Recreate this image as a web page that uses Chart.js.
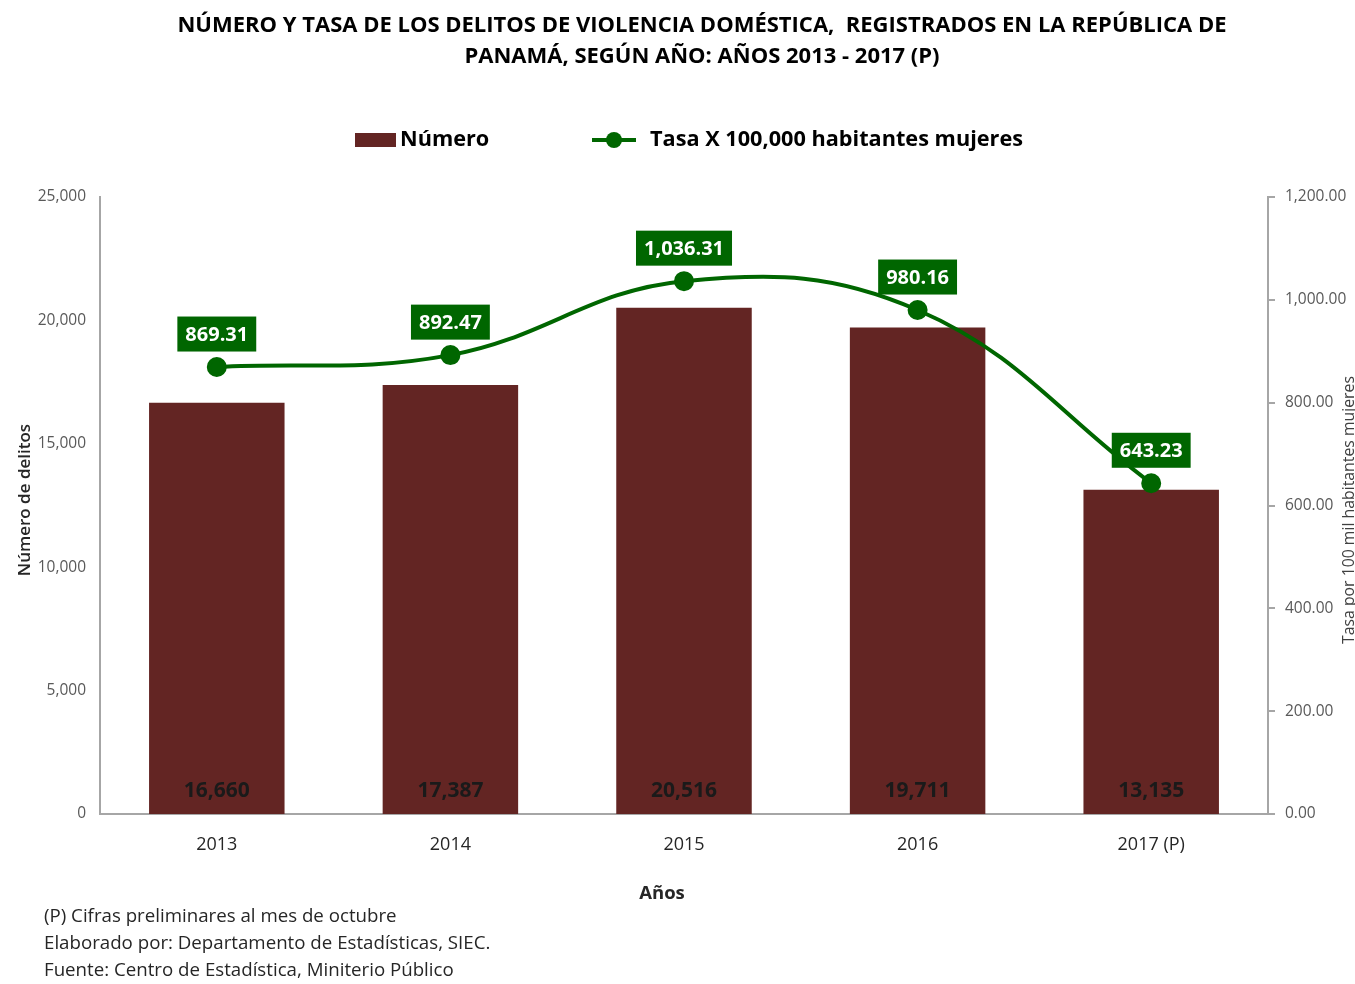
<!DOCTYPE html>
<html>
<head>
<meta charset="utf-8">
<script src="https://cdn.jsdelivr.net/npm/chart.js@4.4.1/dist/chart.umd.min.js"></script>
<style>
  html, body { margin: 0; padding: 0; background: #fff; }
  #wrap { position: relative; width: 1355px; height: 984px; }
</style>
</head>
<body>
<div id="wrap"><canvas id="myChart" width="1355" height="984"></canvas></div>
<script>
// datos
const anios = ["2013", "2014", "2015", "2016", "2017 (P)"];
const numeroDelitos = [16660, 17387, 20516, 19711, 13135];
const tasaMujeres = [869.31, 892.47, 1036.31, 980.16, 643.23];

const titulo = [
    "NÚMERO Y TASA DE LOS DELITOS DE VIOLENCIA DOMÉSTICA,  REGISTRADOS EN LA REPÚBLICA DE",
    "PANAMÁ, SEGÚN AÑO: AÑOS 2013 - 2017 (P)"
];
const notas = [
    "(P) Cifras preliminares al mes de octubre",
    "Elaborado por: Departamento de Estadísticas, SIEC.",
    "Fuente: Centro de Estadística, Miniterio Público"
];

const colorBarra = "#632523";
const colorLinea = "#006600";
const colorEje = "#a6a6a6";
const fuente = "'Open Sans', sans-serif";

const fmtEntero = v => v.toLocaleString("en-US");
const fmtDec = v => v.toLocaleString("en-US", { minimumFractionDigits: 2, maximumFractionDigits: 2 });

// titulo, leyenda, notas y etiquetas
const decoraciones = {
    id: "decoraciones",
    afterDatasetsDraw(chart) {
        const ctx = chart.ctx;
        const metaBar = chart.getDatasetMeta(0);
        const metaLine = chart.getDatasetMeta(1);
        const yBase = chart.scales.y.getPixelForValue(0);

        ctx.save();
        ctx.textAlign = "center";
        ctx.textBaseline = "middle";

        // etiquetas de barras
        ctx.font = "bold 21px " + fuente;
        ctx.fillStyle = "#1a1a1a";
        metaBar.data.forEach((bar, i) => {
            ctx.fillText(fmtEntero(numeroDelitos[i]), bar.x, yBase - 23);
        });

        // etiquetas de la linea
        ctx.font = "bold 20px " + fuente;
        metaLine.data.forEach((pt, i) => {
            const txt = fmtDec(tasaMujeres[i]);
            const w = ctx.measureText(txt).width + 16;
            const h = 35;
            const cy = pt.y - 33;
            ctx.fillStyle = colorLinea;
            ctx.fillRect(pt.x - w / 2, cy - h / 2, w, h);
            ctx.fillStyle = "#ffffff";
            ctx.fillText(txt, pt.x, cy + 1);
        });
        ctx.restore();
    },
    afterDraw(chart) {
        const ctx = chart.ctx;
        ctx.save();
        ctx.textBaseline = "middle";

        // titulo
        ctx.textAlign = "center";
        ctx.fillStyle = "#000";
        ctx.font = "bold 22px " + fuente;
        ctx.fillText(titulo[0], 702, 26);
        ctx.fillText(titulo[1], 702, 57);

        // leyenda
        ctx.textAlign = "left";
        ctx.font = "bold 21.7px " + fuente;
        ctx.fillStyle = colorBarra;
        ctx.fillRect(355, 133, 41, 14);
        ctx.fillStyle = "#000";
        ctx.fillText("Número", 400, 140);
        ctx.strokeStyle = colorLinea;
        ctx.lineWidth = 4;
        ctx.beginPath();
        ctx.moveTo(592, 140);
        ctx.lineTo(636, 140);
        ctx.stroke();
        ctx.fillStyle = colorLinea;
        ctx.beginPath();
        ctx.arc(614, 140, 8, 0, Math.PI * 2);
        ctx.fill();
        ctx.fillStyle = "#000";
        ctx.fillText("Tasa X 100,000 habitantes mujeres", 650, 140);

        // titulos de ejes
        ctx.textAlign = "center";
        ctx.font = "bold 18.5px " + fuente;
        ctx.fillStyle = "#262626";
        ctx.fillText("Años", 662, 894);

        ctx.save();
        ctx.translate(25, 500);
        ctx.rotate(-Math.PI / 2);
        ctx.font = "600 17px " + fuente;
        ctx.fillText("Número de delitos", 0, 0);
        ctx.restore();

        ctx.save();
        ctx.translate(1349, 510);
        ctx.rotate(-Math.PI / 2);
        ctx.font = "15.8px " + fuente;
        ctx.fillStyle = "#404040";
        ctx.fillText("Tasa por 100 mil habitantes mujeres", 0, 0);
        ctx.restore();

        // notas
        ctx.textAlign = "left";
        ctx.font = "18.7px " + fuente;
        ctx.fillStyle = "#262626";
        notas.forEach((t, i) => ctx.fillText(t, 44, 917 + i * 27));
        ctx.restore();
    }
};

const ctx = document.getElementById("myChart").getContext("2d");
const chart = new Chart(ctx, {
    data: {
        labels: anios,
        datasets: [
            {
                type: "bar",
                label: "Número",
                data: numeroDelitos,
                backgroundColor: colorBarra,
                yAxisID: "y",
                barPercentage: 0.58,
                categoryPercentage: 1,
                order: 2
            },
            {
                type: "line",
                label: "Tasa X 100,000 habitantes mujeres",
                data: tasaMujeres,
                borderColor: colorLinea,
                backgroundColor: colorLinea,
                borderWidth: 4,
                pointRadius: 8,
                pointHoverRadius: 8,
                tension: 0.4,
                yAxisID: "y1",
                order: 1
            }
        ]
    },
    options: {
        responsive: false,
        animation: false,
        layout: { padding: { top: 197, left: 0, right: 0, bottom: 0 } },
        plugins: {
            legend: { display: false },
            title: { display: false },
            tooltip: { enabled: false }
        },
        scales: {
            x: {
                grid: { display: false, drawTicks: false },
                border: { display: true, color: colorEje, width: 2 },
                ticks: { color: "#262626", font: { family: fuente, size: 18 }, padding: 20 },
                afterFit: s => { s.height = 170; }
            },
            y: {
                position: "left",
                min: 0,
                max: 25000,
                grid: { display: false, drawTicks: false },
                border: { display: true, color: colorEje, width: 2 },
                ticks: {
                    stepSize: 5000,
                    padding: 14,
                    color: "#595959",
                    font: { family: fuente, size: 15.5 },
                    callback: v => fmtEntero(v)
                },
                afterFit: s => { s.width = 100; }
            },
            y1: {
                position: "right",
                min: 0,
                max: 1200,
                grid: { drawOnChartArea: false, color: colorEje, lineWidth: 2, tickLength: 7 },
                border: { display: true, color: colorEje, width: 2 },
                ticks: {
                    stepSize: 200,
                    padding: 10,
                    color: "#595959",
                    font: { family: fuente, size: 15.5 },
                    callback: v => fmtDec(v)
                },
                afterFit: s => { s.width = 87; }
            }
        }
    },
    plugins: [decoraciones]
});
</script>
</body>
</html>
